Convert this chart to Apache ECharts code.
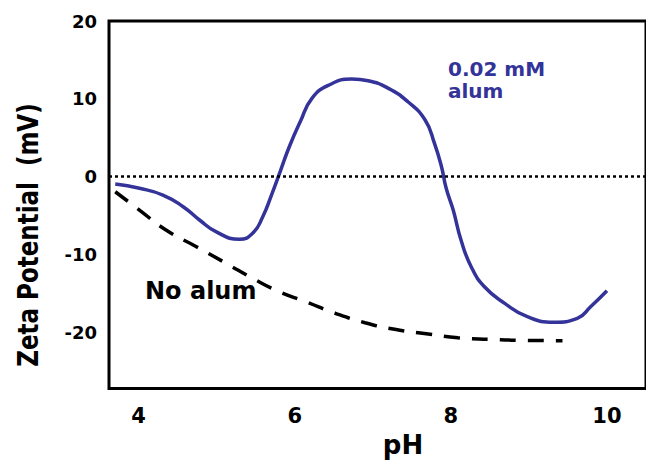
<!DOCTYPE html>
<html>
<head>
<meta charset="utf-8">
<script src="https://cdn.jsdelivr.net/npm/echarts@6/dist/echarts.min.js"></script>
<style>html,body{margin:0;padding:0;background:#fff;}#chart{width:646px;height:460px;}</style>
</head>
<body>
<div id="chart"></div>
<script>
// pH values and zeta potential (mV)
var phAlum = [3.70, 4.01, 4.31, 4.57, 4.78, 4.99, 5.29, 5.46, 5.59, 5.71, 5.82, 5.93, 6.07, 6.22, 6.44, 6.73, 6.94, 7.20, 7.45, 7.67, 7.79, 7.88, 7.94, 8.03, 8.13, 8.26, 8.43, 8.69, 8.98, 9.32, 9.62, 9.79, 10.00];
var zetaAlum = [-0.94, -1.49, -2.35, -3.85, -5.56, -7.06, -8.04, -7.27, -5.14, -2.13, 0.86, 3.85, 7.06, 10.07, 11.78, 12.55, 12.33, 11.35, 9.63, 7.28, 4.29, 1.28, -1.49, -4.28, -8.13, -11.56, -14.13, -16.26, -17.98, -18.70, -18.19, -16.70, -14.64];
var phNoAlum = [3.70, 4.01, 4.35, 4.74, 5.12, 5.46, 5.80, 6.14, 6.52, 6.90, 7.28, 7.71, 8.09, 8.52, 8.90, 9.43];
var zetaNoAlum = [-1.93, -4.28, -6.85, -8.99, -11.12, -13.05, -14.77, -16.05, -17.54, -18.75, -19.60, -20.20, -20.68, -20.88, -21.01, -21.06];
var xTicks = [4, 6, 8, 10];
var yTicks = [-20, -10, 0, 10, 20];
var seriesNameAlum = '0.02 mM alum';
var seriesNameNoAlum = 'No alum';

function zip(a, b) { return a.map(function (v, i) { return [v, b[i]]; }); }

var FONT = 'DejaVu Sans';
var BLUE = '#333399';
var chart = echarts.init(document.getElementById('chart'), null, { renderer: 'svg' });
chart.setOption({
  animation: false,
  backgroundColor: '#fff',
  grid: { left: 109, right: -3, top: 21, bottom: 71.5, show: true, borderColor: '#000', borderWidth: 3, backgroundColor: 'transparent' },
  xAxis: {
    type: 'value', min: 3.62, max: 10.5,
    axisLine: { show: false }, axisTick: { show: false }, splitLine: { show: false },
    axisLabel: { customValues: xTicks, margin: 17, fontFamily: FONT, fontWeight: 'bold', fontSize: 21, color: '#000' }
  },
  yAxis: {
    type: 'value', min: -27.2, max: 20,
    axisLine: { show: false }, axisTick: { show: false }, splitLine: { show: false },
    axisLabel: { customValues: yTicks, margin: 12, fontFamily: FONT, fontWeight: 'bold', fontSize: 18, color: '#000' }
  },
  series: [
    {
      name: seriesNameAlum, type: 'line', data: zip(phAlum, zetaAlum), smooth: 0.5,
      symbol: 'none', lineStyle: { color: BLUE, width: 3.5 }, z: 3,
      markLine: {
        silent: true, symbol: 'none', label: { show: false },
        lineStyle: { color: '#000', type: [3, 3], width: 2.5 },
        data: [{ yAxis: 0 }]
      }
    },
    {
      name: seriesNameNoAlum, type: 'line', data: zip(phNoAlum, zetaNoAlum), smooth: 0.5,
      symbol: 'none', lineStyle: { color: '#000', width: 3.5, type: [16, 12] }, z: 2
    }
  ],
  graphic: [
    { type: 'text', x: 28, y: 235, rotation: Math.PI / 2, scaleY: 1.25,
      style: { text: 'Zeta Potential  (mV)', font: 'bold 23px "DejaVu Sans"', fill: '#000', align: 'center', verticalAlign: 'middle' } },
    { type: 'text', x: 403, y: 445,
      style: { text: 'pH', font: 'bold 26px "DejaVu Sans"', fill: '#000', align: 'center', verticalAlign: 'middle' } },
    { type: 'text', x: 145, y: 291,
      style: { text: 'No alum', font: 'bold 24px "DejaVu Sans"', fill: '#000', align: 'left', verticalAlign: 'middle' } },
    { type: 'text', x: 448, y: 69,
      style: { text: '0.02 mM', font: 'bold 20px "DejaVu Sans"', fill: BLUE, align: 'left', verticalAlign: 'middle' } },
    { type: 'text', x: 448, y: 91,
      style: { text: 'alum', font: 'bold 20px "DejaVu Sans"', fill: BLUE, align: 'left', verticalAlign: 'middle' } }
  ]
});
</script>
</body>
</html>
